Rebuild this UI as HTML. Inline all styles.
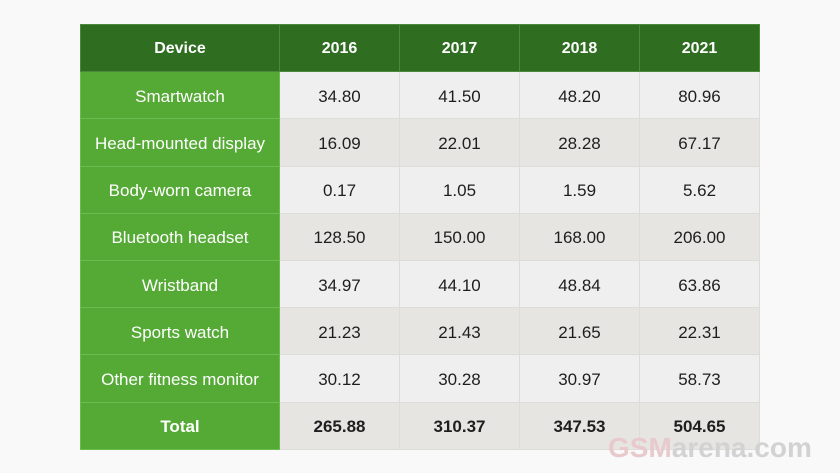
<!DOCTYPE html>
<html><head><style>
html,body{margin:0;padding:0;width:840px;height:473px;background:#f9f9f9;overflow:hidden;font-family:"Liberation Sans",sans-serif}
table{position:absolute;left:80px;top:24px;border-collapse:collapse;table-layout:fixed}
tr{height:47.2px}
td{height:47.2px;padding:3px 0 0 0;box-sizing:border-box;text-align:center;font-size:17px;color:#1e1e1e;border:1px solid #dcdcd8}
td.h{background:#2f6e21;color:#fff;font-weight:bold;font-size:16px;border-color:#4a8a3a;padding-top:1px}
td.f{background:#55aa35;color:#fff;font-size:17px;border-color:#6cbb4f}
tr:nth-child(even) td{background:#efefef}
tr:nth-child(odd) td{background:#e6e5e2}
tr td.h{background:#2f6e21}
tr td.f{background:#55aa35}
tr.t td{font-weight:bold}
.wm{position:absolute;left:608px;top:432px;font-size:28px;font-weight:bold;color:#d2d2d2}
.wm b{color:#e8cacd}
</style></head><body>
<table>
<colgroup><col style="width:199px"><col style="width:120px"><col style="width:120px"><col style="width:120px"><col style="width:120px"></colgroup>
<tr><td class="h">Device</td><td class="h">2016</td><td class="h">2017</td><td class="h">2018</td><td class="h">2021</td></tr>
<tr><td class="f">Smartwatch</td><td>34.80</td><td>41.50</td><td>48.20</td><td>80.96</td></tr>
<tr><td class="f">Head-mounted display</td><td>16.09</td><td>22.01</td><td>28.28</td><td>67.17</td></tr>
<tr><td class="f">Body-worn camera</td><td>0.17</td><td>1.05</td><td>1.59</td><td>5.62</td></tr>
<tr><td class="f">Bluetooth headset</td><td>128.50</td><td>150.00</td><td>168.00</td><td>206.00</td></tr>
<tr><td class="f">Wristband</td><td>34.97</td><td>44.10</td><td>48.84</td><td>63.86</td></tr>
<tr><td class="f">Sports watch</td><td>21.23</td><td>21.43</td><td>21.65</td><td>22.31</td></tr>
<tr><td class="f">Other fitness monitor</td><td>30.12</td><td>30.28</td><td>30.97</td><td>58.73</td></tr>
<tr class="t"><td class="f">Total</td><td>265.88</td><td>310.37</td><td>347.53</td><td>504.65</td></tr>
</table>
<div class="wm"><b>GSM</b>arena.com</div>
</body></html>
